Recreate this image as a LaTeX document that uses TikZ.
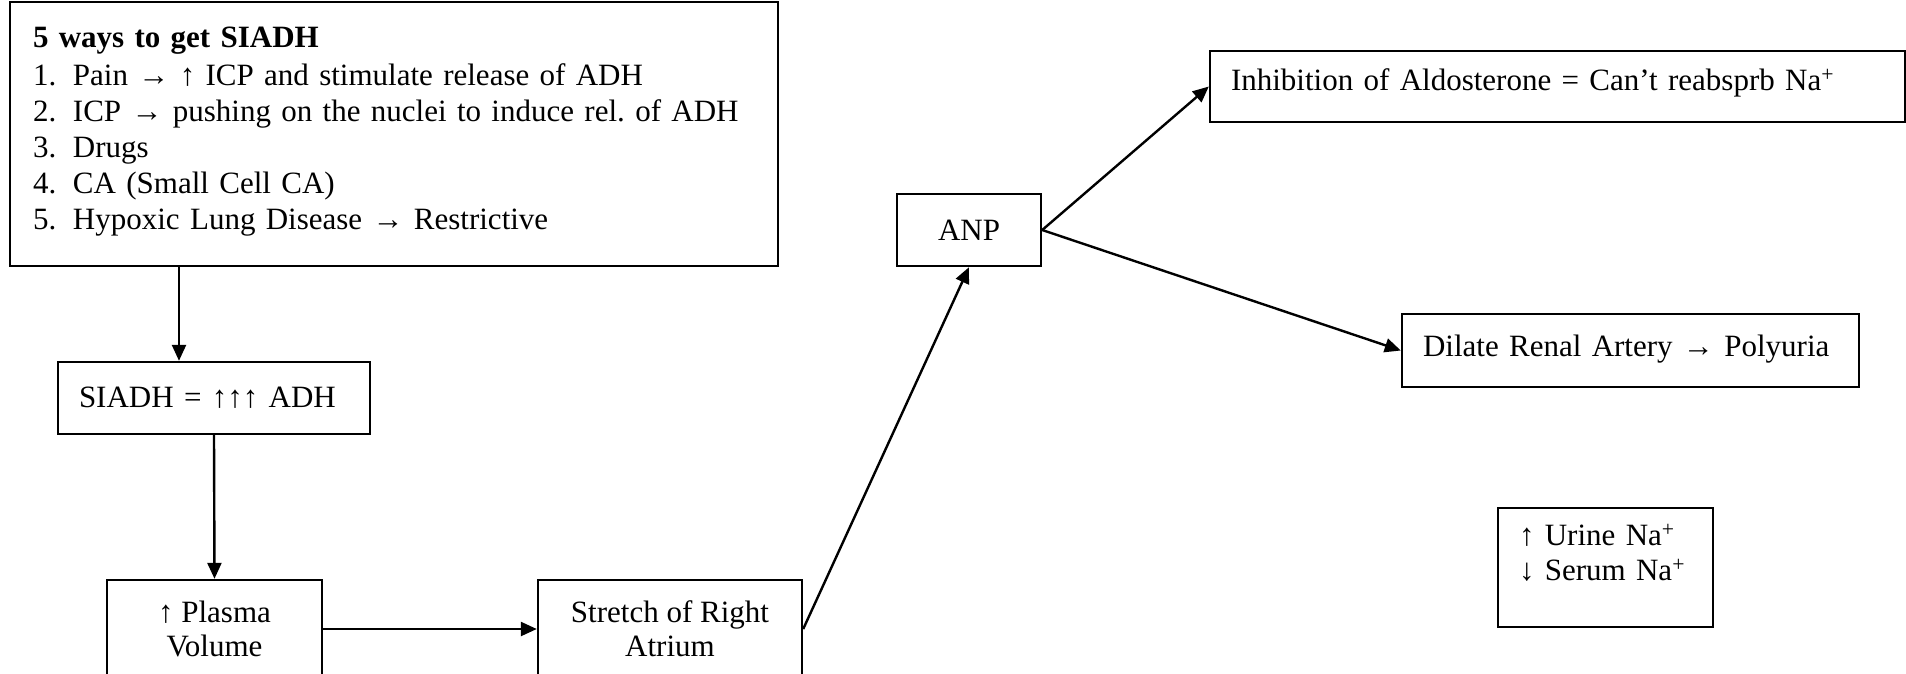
\documentclass[tikz,border=0pt]{standalone}
\usepackage{fontspec}
\setmainfont{Liberation Serif}
\usetikzlibrary{arrows.meta}

\tikzset{
  box/.style={draw=black, line width=2.4pt, fill=white, inner sep=0pt,
              font=\fontsize{31}{36}\selectfont},
  leftbox/.style={box, inner xsep=21pt, align=left},
  arr/.style={draw=black, line width=2.4pt,
              -{Triangle[length=16pt,width=14pt]}},
}
\newcommand{\itm}[1]{\makebox[40pt][l]{#1}}
% invisible strut that lifts the text inside a box
\newcommand{\lift}[1]{\rule[-#1]{0pt}{#1}}

\begin{document}
\begin{tikzpicture}[x=1pt,y=-1pt]
  \useasboundingbox[fill=white] (0,0) rectangle (1906,673);

  % causes of SIADH
  \node[leftbox, inner xsep=23pt, text width=722, minimum height=264]
    (ways) at (394,134)
    {\textbf{5 ways to get SIADH}\\[2pt]
     \itm{1.}Pain → ↑ ICP and stimulate release of ADH\\
     \itm{2.}ICP → pushing on the nuclei to induce rel.\ of ADH\\
     \itm{3.}Drugs\\
     \itm{4.}CA (Small Cell CA)\\
     \itm{5.}Hypoxic Lung Disease → Restrictive\lift{12pt}};

  \node[leftbox, text width=270, minimum height=72] (siadh) at (214,398)
    {SIADH = ↑↑↑ ADH};
  \node[box, minimum width=215, minimum height=98, align=center]
    (plasma) at (214.5,629) {↑ Plasma\\[-2pt]Volume};
  \node[box, minimum width=264, minimum height=98, align=center]
    (stretch) at (670,629) {Stretch of Right\\[-2pt]Atrium};
  \node[box, minimum width=144, minimum height=72] (anp) at (969,230) {ANP};
  \node[leftbox, text width=653, minimum height=71] (inhib) at (1557.5,86.5)
    {Inhibition of Aldosterone = Can’t reabsprb Na\textsuperscript{+}\lift{14pt}};
  \node[leftbox, text width=415, minimum height=73] (dilate) at (1630.5,350.5)
    {Dilate Renal Artery → Polyuria\lift{10pt}};
  \node[leftbox, text width=173, minimum height=119] (urine) at (1605.5,567.5)
    {↑ Urine Na\textsuperscript{+}\\[-1pt]↓ Serum Na\textsuperscript{+}\lift{30pt}};

  \coordinate (drop) at (179,0);
  \draw[arr] (ways.south -| drop) -- (siadh.north -| drop);
  \draw[arr] (siadh.south) -- (plasma.north);
  \draw[arr] (plasma.east) -- (stretch.west);
  \draw[arr] (stretch.east) -- (anp.south);
  \draw[arr] (anp.east) -- (inhib.west);
  \draw[arr] (anp.east) -- (dilate.west);
\end{tikzpicture}
\end{document}
